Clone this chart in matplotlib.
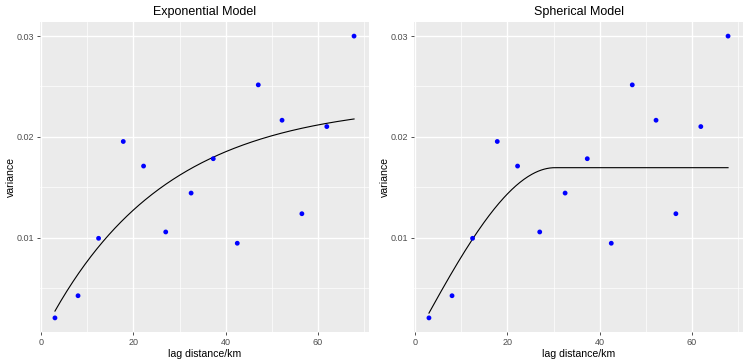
import numpy as np
import matplotlib.pyplot as plt
from matplotlib.ticker import MultipleLocator

plt.rcParams['font.family'] = ['Liberation Sans', 'DejaVu Sans']

# empirical semivariogram
lag = [3.0, 8.0, 12.45, 17.8, 22.2, 27.0, 32.5, 37.3, 42.5, 47.05, 52.2, 56.5, 61.9, 67.8]
variance = [0.00203, 0.00423, 0.00993, 0.01954, 0.0171, 0.01056, 0.01442,
            0.01783, 0.00944, 0.02516, 0.02165, 0.01237, 0.02102, 0.0300]

# fitted model parameters (nugget, partial sill, range)
exp_nugget, exp_sill, exp_range = 0.00014, 0.0233, 25.7
sph_nugget, sph_sill, sph_range = 0.0, 0.01694, 30.3


def exp_model(h):
    return exp_nugget + exp_sill * (1 - np.exp(-h / exp_range))


def sph_model(h):
    r = np.minimum(h / sph_range, 1.0)
    return sph_nugget + sph_sill * (1.5 * r - 0.5 * r ** 3)


h = np.linspace(min(lag), max(lag), 300)

fig = plt.figure(figsize=(7.48, 3.64), dpi=100)
ax1 = fig.add_axes([40 / 748, 32 / 364, 329 / 748, 310 / 364])
ax2 = fig.add_axes([414 / 748, 32 / 364, 329 / 748, 310 / 364])

for ax, title, model in [(ax1, 'Exponential Model', exp_model),
                         (ax2, 'Spherical Model', sph_model)]:
    ax.set_facecolor('#EBEBEB')
    for s in ax.spines.values():
        s.set_visible(False)
    ax.xaxis.set_major_locator(MultipleLocator(20))
    ax.xaxis.set_minor_locator(MultipleLocator(10))
    ax.yaxis.set_major_locator(MultipleLocator(0.01))
    ax.yaxis.set_minor_locator(MultipleLocator(0.005))
    ax.grid(which='major', color='white', linewidth=1.0)
    ax.grid(which='minor', color='white', linewidth=0.5)
    ax.set_axisbelow(True)
    ax.tick_params(which='major', length=2.5, width=0.6, color='#333333',
                   labelsize=6.5, labelcolor='#4D4D4D', pad=1.5)
    ax.tick_params(which='minor', length=0)

    ax.plot(h, model(h), color='black', linewidth=0.8, zorder=2)
    ax.scatter(lag, variance, s=12, color='blue', edgecolors='none', zorder=3)

    ax.set_xlim(-0.24, 71.04)
    ax.set_ylim(0.00063, 0.0314)
    ax.set_yticks([0.01, 0.02, 0.03])
    ax.set_yticklabels(['0.01', '0.02', '0.03'])
    ax.set_xticks([0, 20, 40, 60])
    ax.set_title(title, fontsize=9, pad=5)
    ax.set_xlabel('lag distance/km', fontsize=7.6, labelpad=2)
    ax.set_ylabel('variance', fontsize=7.6, labelpad=0.5)

fig.savefig('out.png', dpi=100)
